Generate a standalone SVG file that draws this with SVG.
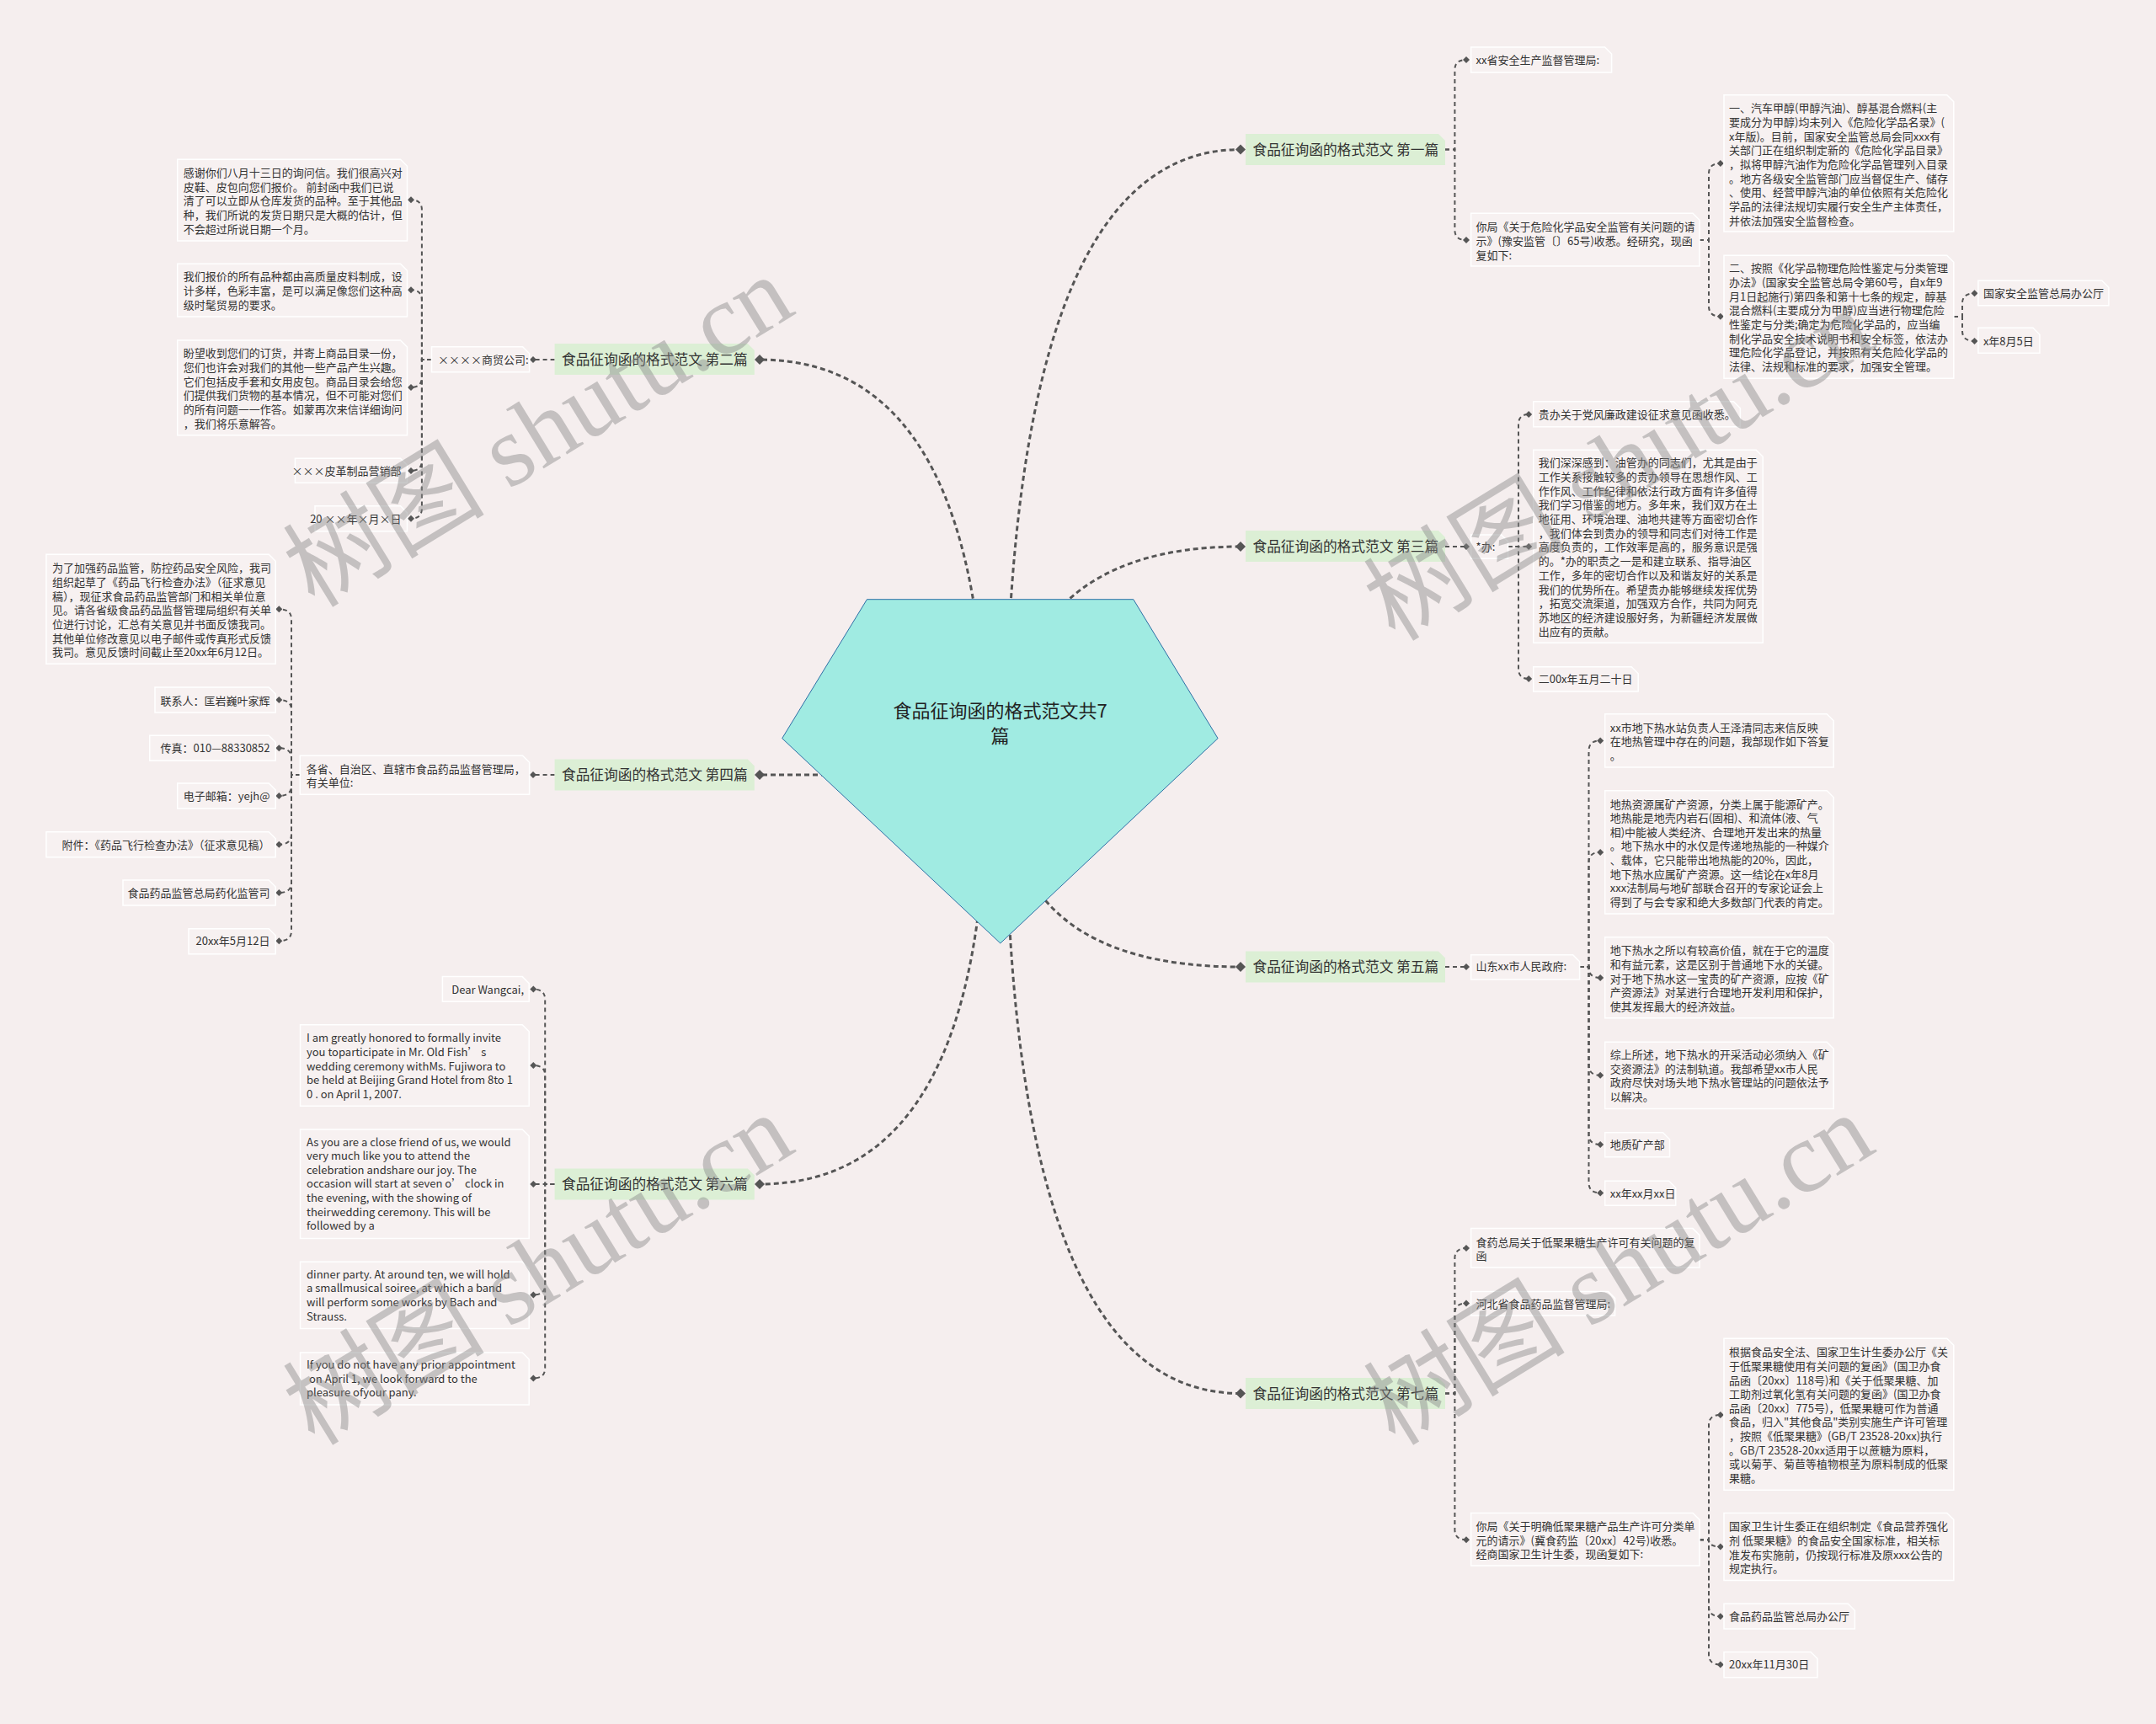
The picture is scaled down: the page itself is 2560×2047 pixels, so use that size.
<svg xmlns="http://www.w3.org/2000/svg" width="2560" height="2047" viewBox="0 0 2560 2047">
<style>
.t{font-family:"Noto Sans CJK SC","Noto Sans",sans-serif;fill:#333;font-size:13px}
.tb{font-size:16.7px}
.tc{font-size:22px;fill:#222}
.leaf{fill:#f7f1f1;stroke:#ffffff;stroke-width:1.5}
.br{fill:#dcefd5}
.c0{fill:none;stroke:#555;stroke-width:3;stroke-dasharray:6 4;marker-end:url(#dB)}
.c1{fill:none;stroke:#555;stroke-width:2;stroke-dasharray:5 4;marker-end:url(#dS)}
.wm{font-family:"Liberation Serif","Noto Sans CJK SC",serif;font-size:120px;fill:#8a8a8a;opacity:.45}
</style>
<defs>
<marker id="dB" markerUnits="userSpaceOnUse" viewBox="-7 -7 14 14" markerWidth="14" markerHeight="14" refX="0" refY="0" orient="auto"><path d="M-6 0L0-6L6 0L0 6Z" fill="#555"/></marker>
<marker id="dS" markerUnits="userSpaceOnUse" viewBox="-5 -5 10 10" markerWidth="10" markerHeight="10" refX="0" refY="0" orient="auto"><path d="M-4 0L0-4L4 0L0 4Z" fill="#555"/></marker>
</defs>
<rect width="2560" height="2047" fill="#f5eeee"/>

<g id="connectors">
<path class="c0" d="M1194 920Q1194 177.5 1473 177.5"/>
<path class="c0" d="M1194 920Q1194 649 1473 649"/>
<path class="c0" d="M1194 920Q1194 1148 1473 1148"/>
<path class="c0" d="M1194 920Q1194 1654.5 1473 1654.5"/>
<path class="c0" d="M1171 920Q1171 427 902 427"/>
<path class="c0" d="M1171 920L902 920"/>
<path class="c0" d="M1171 920Q1171 1406 902 1406"/>

<path class="c1" d="M1716 177.5H1727.4V83Q1727.4 71 1741 71"/>
<path class="c1" d="M1716 177.5H1727.4V273Q1727.4 285 1741 285"/>
<path class="c1" d="M2018 285H2029V206Q2029 194 2042.8 194"/>
<path class="c1" d="M2018 285H2029V363.7Q2029 375.7 2042.8 375.7"/>
<path class="c1" d="M2320 376H2330V360.3Q2330 348.3 2344.5 348.3"/>
<path class="c1" d="M2320 376H2330V393Q2330 405 2344.5 405"/>

<path class="c1" d="M1716 649H1741"/>
<path class="c1" d="M1790.5 649H1803V504Q1803 492 1815.2 492"/>
<path class="c1" d="M1790.5 649H1815.2"/>
<path class="c1" d="M1790.5 649H1803V794Q1803 806 1815.2 806"/>

<path class="c1" d="M1716 1148H1741"/>
<path class="c1" d="M1875.5 1148H1886.5V891.4Q1886.5 879.4 1900.2 879.4"/>
<path class="c1" d="M1875.5 1148H1886.5V1023.9Q1886.5 1011.9 1900.2 1011.9"/>
<path class="c1" d="M1875.5 1148H1886.5V1149Q1886.5 1161 1900.2 1161"/>
<path class="c1" d="M1875.5 1148H1886.5V1264.8Q1886.5 1276.8 1900.2 1276.8"/>
<path class="c1" d="M1875.5 1148H1886.5V1347Q1886.5 1359 1900.2 1359"/>
<path class="c1" d="M1875.5 1148H1886.5V1404.4Q1886.5 1416.4 1900.2 1416.4"/>

<path class="c1" d="M1716 1654.5H1727.4V1494Q1727.4 1482 1741 1482"/>
<path class="c1" d="M1716 1654.5H1727.4V1559.5Q1727.4 1547.5 1741 1547.5"/>
<path class="c1" d="M1716 1654.5H1727.4V1816.2Q1727.4 1828.2 1741 1828.2"/>
<path class="c1" d="M2018 1828.2H2029V1692Q2029 1680 2042.8 1680"/>
<path class="c1" d="M2018 1828.2H2029V1828.2Q2029 1836.4 2042.8 1836.4"/>
<path class="c1" d="M2018 1828.2H2029V1907.3Q2029 1919.3 2042.8 1919.3"/>
<path class="c1" d="M2018 1828.2H2029V1964.4Q2029 1976.4 2042.8 1976.4"/>

<path class="c1" d="M658.6 427H633"/>
<path class="c1" d="M512.5 427H500.9V249.3Q500.9 237.3 488 237.3"/>
<path class="c1" d="M512.5 427H500.9V356.3Q500.9 344.3 488 344.3"/>
<path class="c1" d="M512.5 427H500.9V448Q500.9 460 488 460"/>
<path class="c1" d="M512.5 427H500.9V547Q500.9 559 488 559"/>
<path class="c1" d="M512.5 427H500.9V603.7Q500.9 615.7 488 615.7"/>

<path class="c1" d="M658.6 920H633"/>
<path class="c1" d="M356.3 920H346V735.3Q346 723.3 331.3 723.3"/>
<path class="c1" d="M356.3 920H346V843Q346 831 331.3 831"/>
<path class="c1" d="M356.3 920H346V900.3Q346 888.3 331.3 888.3"/>
<path class="c1" d="M356.3 920H346V933Q346 945 331.3 945"/>
<path class="c1" d="M356.3 920H346V990.7Q346 1002.7 331.3 1002.7"/>
<path class="c1" d="M356.3 920H346V1048Q346 1060 331.3 1060"/>
<path class="c1" d="M356.3 920H346V1105.3Q346 1117.3 331.3 1117.3"/>

<path class="c1" d="M658.6 1406H647.2V1186.6Q647.2 1174.6 633.3 1174.6"/>
<path class="c1" d="M658.6 1406H647.2V1277Q647.2 1265 633.3 1265"/>
<path class="c1" d="M658.6 1406H633.3"/>
<path class="c1" d="M658.6 1406H647.2V1525.5Q647.2 1537.5 633.3 1537.5"/>
<path class="c1" d="M658.6 1406H647.2V1624.4Q647.2 1636.4 633.3 1636.4"/>
</g>

<g id="root">
<polygon points="1029.4,711.7 1345.8,711.7 1446.1,876.7 1187.8,1120 928.7,876.7" fill="#a0ebe2" stroke="#2d6ea5" stroke-width="1"/>
<text class="t tc" text-anchor="middle"><tspan x="1187.6" y="851.7">食品征询函的格式范文共7</tspan><tspan x="1187.6" y="881.7">篇</tspan></text>
</g>

<g id="n1"><path class="br" d="M1479 159h229l8 8v29h-237z"/><text class="t tb" x="1487.5" y="183.5">食品征询函的格式范文 第一篇</text></g>
<g id="n3"><path class="br" d="M1479 630h229l8 8v29h-237z"/><text class="t tb" x="1487.5" y="655">食品征询函的格式范文 第三篇</text></g>
<g id="n5"><path class="br" d="M1479 1129.5h229l8 8v29h-237z"/><text class="t tb" x="1487.5" y="1154.3">食品征询函的格式范文 第五篇</text></g>
<g id="n7"><path class="br" d="M1479 1636h229l8 8v29h-237z"/><text class="t tb" x="1487.5" y="1660.8">食品征询函的格式范文 第七篇</text></g>
<g id="n2"><path class="br" d="M658.6 408h229.2l8 8v29h-237.2z"/><text class="t tb" x="667" y="432.8">食品征询函的格式范文 第二篇</text></g>
<g id="n4"><path class="br" d="M658.6 901.5h229.2l8 8v29h-237.2z"/><text class="t tb" x="667" y="926.3">食品征询函的格式范文 第四篇</text></g>
<g id="n6"><path class="br" d="M658.6 1387.5h229.2l8 8v29h-237.2z"/><text class="t tb" x="667" y="1412.3">食品征询函的格式范文 第六篇</text></g>

<g id="n1a"><path class="leaf" d="M1746.6 56h159l8 8v22h-167z"/><text class="t" x="1752.6" y="76">xx省安全生产监督管理局:</text></g>
<g id="n1b"><path class="leaf" d="M1746.6 253.3h263.4l8 8v54.7h-271.4z"/><text class="t"><tspan x="1752.6" y="274.2">你局《关于危险化学品安全监管有关问题的请</tspan><tspan x="1752.6" y="290.9">示》(豫安监管〔〕65号)收悉。经研究，现函</tspan><tspan x="1752.6" y="307.6">复如下:</tspan></text></g>
<g id="n1b1"><path class="leaf" d="M2047 112.7h264.8l8 8v154.3h-272.8z"/><text class="t"><tspan x="2053" y="133.2">一、汽车甲醇(甲醇汽油)、醇基混合燃料(主</tspan><tspan x="2053" y="149.9">要成分为甲醇)均未列入《危险化学品名录》(</tspan><tspan x="2053" y="166.6">x年版)。目前，国家安全监管总局会同xxx有</tspan><tspan x="2053" y="183.3">关部门正在组织制定新的《危险化学品目录》</tspan><tspan x="2053" y="200">，拟将甲醇汽油作为危险化学品管理列入目录</tspan><tspan x="2053" y="216.7">。地方各级安全监管部门应当督促生产、储存</tspan><tspan x="2053" y="233.4">、使用、经营甲醇汽油的单位依照有关危险化</tspan><tspan x="2053" y="250.1">学品的法律法规切实履行安全生产主体责任，</tspan><tspan x="2053" y="266.8">并依法加强安全监督检查。</tspan></text></g>
<g id="n1b2"><path class="leaf" d="M2047 303.3h264.8l8 8v138h-272.8z"/><text class="t"><tspan x="2053" y="323.2">二、按照《化学品物理危险性鉴定与分类管理</tspan><tspan x="2053" y="339.9">办法》(国家安全监管总局令第60号，自x年9</tspan><tspan x="2053" y="356.6">月1日起施行)第四条和第十七条的规定，醇基</tspan><tspan x="2053" y="373.3">混合燃料(主要成分为甲醇)应当进行物理危险</tspan><tspan x="2053" y="390">性鉴定与分类;确定为危险化学品的，应当编</tspan><tspan x="2053" y="406.7">制化学品安全技术说明书和安全标签，依法办</tspan><tspan x="2053" y="423.4">理危险化学品登记，并按照有关危险化学品的</tspan><tspan x="2053" y="440.1">法律、法规和标准的要求，加强安全管理。</tspan></text></g>
<g id="n1b2a"><path class="leaf" d="M2348.9 333.3h147l8 8v21.4h-155z"/><text class="t" x="2354.9" y="353.2">国家安全监管总局办公厅</text></g>
<g id="n1b2b"><path class="leaf" d="M2348.9 389.3h65l8 8v22h-73z"/><text class="t" x="2354.9" y="410">x年8月5日</text></g>

<g id="n3a"><path class="leaf" d="M1746.6 635h36l8 8v20.3h-44z"/><text class="t" x="1752.6" y="654">*办:</text></g>
<g id="n3a1"><path class="leaf" d="M1820.7 476.7h237.7l8 8v22h-245.7z"/><text class="t" x="1826.7" y="497">贵办关于党风廉政建设征求意见函收悉。</text></g>
<g id="n3a2"><path class="leaf" d="M1820.7 534.3h264.5l8 8v221h-272.5z"/><text class="t"><tspan x="1826.7" y="554.2">我们深深感到：油管办的同志们，尤其是由于</tspan><tspan x="1826.7" y="570.9">工作关系接触较多的贵办领导在思想作风、工</tspan><tspan x="1826.7" y="587.6">作作风、工作纪律和依法行政方面有许多值得</tspan><tspan x="1826.7" y="604.3">我们学习借鉴的地方。多年来，我们双方在土</tspan><tspan x="1826.7" y="621">地征用、环境治理、油地共建等方面密切合作</tspan><tspan x="1826.7" y="637.7">，我们体会到贵办的领导和同志们对待工作是</tspan><tspan x="1826.7" y="654.4">高度负责的，工作效率是高的，服务意识是强</tspan><tspan x="1826.7" y="671.1">的。*办的职责之一是和建立联系、指导油区</tspan><tspan x="1826.7" y="687.8">工作，多年的密切合作以及和谐友好的关系是</tspan><tspan x="1826.7" y="704.5">我们的优势所在。希望贵办能够继续发挥优势</tspan><tspan x="1826.7" y="721.2">，拓宽交流渠道，加强双方合作，共同为阿克</tspan><tspan x="1826.7" y="737.9">苏地区的经济建设服好务，为新疆经济发展做</tspan><tspan x="1826.7" y="754.6">出应有的贡献。</tspan></text></g>
<g id="n3a3"><path class="leaf" d="M1820.7 791.7h116.5l8 8v21.3h-124.5z"/><text class="t" x="1826.7" y="811.4">二00x年五月二十日</text></g>

<g id="n5a"><path class="leaf" d="M1746.6 1133.7h121l8 8v21.3h-129z"/><text class="t" x="1752.6" y="1152.4">山东xx市人民政府:</text></g>
<g id="n5a1"><path class="leaf" d="M1905.7 847.8h263.5l8 8v55.2h-271.5z"/><text class="t"><tspan x="1911.7" y="868.5">xx市地下热水站负责人王泽清同志来信反映</tspan><tspan x="1911.7" y="885.2">在地热管理中存在的问题，我部现作如下答复</tspan><tspan x="1911.7" y="901.9">。</tspan></text></g>
<g id="n5a2"><path class="leaf" d="M1905.7 938.7h263.5l8 8v138.3h-271.5z"/><text class="t"><tspan x="1911.7" y="959.5">地热资源属矿产资源，分类上属于能源矿产。</tspan><tspan x="1911.7" y="976.1">地热能是地壳内岩石(固相)、和流体(液、气</tspan><tspan x="1911.7" y="992.7">相)中能被人类经济、合理地开发出来的热量</tspan><tspan x="1911.7" y="1009.3">。地下热水中的水仅是传递地热能的一种媒介</tspan><tspan x="1911.7" y="1025.9">、载体，它只能带出地热能的20%，因此，</tspan><tspan x="1911.7" y="1042.5">地下热水应属矿产资源。这一结论在x年8月</tspan><tspan x="1911.7" y="1059.1">xxx法制局与地矿部联合召开的专家论证会上</tspan><tspan x="1911.7" y="1075.7">得到了与会专家和绝大多数部门代表的肯定。</tspan></text></g>
<g id="n5a3"><path class="leaf" d="M1905.7 1112.7h263.5l8 8v88.1h-271.5z"/><text class="t"><tspan x="1911.7" y="1133.4">地下热水之所以有较高价值，就在于它的温度</tspan><tspan x="1911.7" y="1150">和有益元素，这是区别于普通地下水的关键。</tspan><tspan x="1911.7" y="1166.6">对于地下热水这一宝贵的矿产资源，应按《矿</tspan><tspan x="1911.7" y="1183.2">产资源法》对某进行合理地开发利用和保护，</tspan><tspan x="1911.7" y="1199.8">使其发挥最大的经济效益。</tspan></text></g>
<g id="n5a4"><path class="leaf" d="M1905.7 1237.3h263.5l8 8v71.1h-271.5z"/><text class="t"><tspan x="1911.7" y="1257.2">综上所述，地下热水的开采活动必须纳入《矿</tspan><tspan x="1911.7" y="1273.8">交资源法》的法制轨道。我部希望xx市人民</tspan><tspan x="1911.7" y="1290.4">政府尽快对场头地下热水管理站的问题依法予</tspan><tspan x="1911.7" y="1307">以解决。</tspan></text></g>
<g id="n5a5"><path class="leaf" d="M1905.7 1344.8h68.8l8 8v21h-76.8z"/><text class="t" x="1911.7" y="1364">地质矿产部</text></g>
<g id="n5a6"><path class="leaf" d="M1905.7 1402.2h76l8 8v21h-84z"/><text class="t" x="1911.7" y="1421.5">xx年xx月xx日</text></g>

<g id="n7a"><path class="leaf" d="M1746.6 1458.6h263.4l8 8v38.4h-271.4z"/><text class="t"><tspan x="1752.6" y="1479.5">食药总局关于低聚果糖生产许可有关问题的复</tspan><tspan x="1752.6" y="1496">函</tspan></text></g>
<g id="n7b"><path class="leaf" d="M1746.6 1533.6h163l8 8v20.5h-171z"/><text class="t" x="1752.6" y="1552.8">河北省食品药品监督管理局:</text></g>
<g id="n7c"><path class="leaf" d="M1746.6 1796.4h263.4l8 8v54.5h-271.4z"/><text class="t"><tspan x="1752.6" y="1817">你局《关于明确低聚果糖产品生产许可分类单</tspan><tspan x="1752.6" y="1833.5">元的请示》(冀食药监〔20xx〕42号)收悉。</tspan><tspan x="1752.6" y="1850">经商国家卫生计生委，现函复如下:</tspan></text></g>
<g id="n7c1"><path class="leaf" d="M2047 1589.3h264.8l8 8v172h-272.8z"/><text class="t"><tspan x="2053" y="1610.3">根据食品安全法、国家卫生计生委办公厅《关</tspan><tspan x="2053" y="1626.9">于低聚果糖使用有关问题的复函》(国卫办食</tspan><tspan x="2053" y="1643.5">品函〔20xx〕118号)和《关于低聚果糖、加</tspan><tspan x="2053" y="1660.1">工助剂过氧化氢有关问题的复函》(国卫办食</tspan><tspan x="2053" y="1676.7">品函〔20xx〕775号)，低聚果糖可作为普通</tspan><tspan x="2053" y="1693.3">食品，归入"其他食品"类别实施生产许可管理</tspan><tspan x="2053" y="1709.9">，按照《低聚果糖》(GB/T 23528-20xx)执行</tspan><tspan x="2053" y="1726.5">。GB/T 23528-20xx适用于以蔗糖为原料，</tspan><tspan x="2053" y="1743.1">或以菊芋、菊苣等植物根茎为原料制成的低聚</tspan><tspan x="2053" y="1759.7">果糖。</tspan></text></g>
<g id="n7c2"><path class="leaf" d="M2047 1796.4h264.8l8 8v72h-272.8z"/><text class="t"><tspan x="2053" y="1817.4">国家卫生计生委正在组织制定《食品营养强化</tspan><tspan x="2053" y="1834">剂 低聚果糖》的食品安全国家标准，相关标</tspan><tspan x="2053" y="1850.6">准发布实施前，仍按现行标准及原xxx公告的</tspan><tspan x="2053" y="1867.2">规定执行。</tspan></text></g>
<g id="n7c3"><path class="leaf" d="M2047 1904.3h147.4l8 8v21.6h-155.4z"/><text class="t" x="2053" y="1924.2">食品药品监管总局办公厅</text></g>
<g id="n7c4"><path class="leaf" d="M2047 1961.4h103l8 8v22.4h-111z"/><text class="t" x="2053" y="1981.3">20xx年11月30日</text></g>

<g id="n2a"><path class="leaf" d="M512.5 411.7h108.1l8 8v22h-116.1z"/><text class="t" x="520" y="432">××××商贸公司:</text></g>
<g id="n2a1"><path class="leaf" d="M210.7 189.3h264.8l8 8v88.7h-272.8z"/><text class="t"><tspan x="217.7" y="209.9">感谢你们八月十三日的询问信。我们很高兴对</tspan><tspan x="217.7" y="226.6">皮鞋、皮包向您们报价。 前封函中我们已说</tspan><tspan x="217.7" y="243.3">清了可以立即从仓库发货的品种。至于其他品</tspan><tspan x="217.7" y="260">种，我们所说的发货日期只是大概的估计，但</tspan><tspan x="217.7" y="276.7">不会超过所说日期一个月。</tspan></text></g>
<g id="n2a2"><path class="leaf" d="M210.7 313.3h264.8l8 8v54.7h-272.8z"/><text class="t"><tspan x="217.7" y="333.2">我们报价的所有品种都由高质量皮料制成，设</tspan><tspan x="217.7" y="349.9">计多样，色彩丰富，是可以满足像您们这种高</tspan><tspan x="217.7" y="366.6">级时髦贸易的要求。</tspan></text></g>
<g id="n2a3"><path class="leaf" d="M210.7 404h264.8l8 8v104.7h-272.8z"/><text class="t"><tspan x="217.7" y="424.2">盼望收到您们的订货，并寄上商品目录一份，</tspan><tspan x="217.7" y="440.9">您们也许会对我们的其他一些产品产生兴趣。</tspan><tspan x="217.7" y="457.6">它们包括皮手套和女用皮包。商品目录会给您</tspan><tspan x="217.7" y="474.3">们提供我们货物的基本情况，但不可能对您们</tspan><tspan x="217.7" y="491">的所有问题一一作答。如蒙再次来信详细询问</tspan><tspan x="217.7" y="507.7">，我们将乐意解答。</tspan></text></g>
<g id="n2a4"><path class="leaf" d="M350.4 544.3h125.1l8 8v21h-133.1z"/><text class="t" x="476.5" y="564.2" text-anchor="end">×××皮革制品营销部</text></g>
<g id="n2a5"><path class="leaf" d="M374 600.7h101.5l8 8v22h-109.5z"/><text class="t" x="476.5" y="621" text-anchor="end">20 ××年×月×日</text></g>

<g id="n4a"><path class="leaf" d="M356.3 897.3h264.3l8 8v38h-272.3z"/><text class="t"><tspan x="363.8" y="918.2">各省、自治区、直辖市食品药品监督管理局，</tspan><tspan x="363.8" y="934.2">有关单位:</tspan></text></g>
<g id="n4a1"><path class="leaf" d="M54.9 658.3h264.3l8 8v122h-272.3z"/><text class="t"><tspan x="62" y="679.2">为了加强药品监管，防控药品安全风险，我司</tspan><tspan x="62" y="695.9">组织起草了《药品飞行检查办法》（征求意见</tspan><tspan x="62" y="712.6">稿），现征求食品药品监管部门和相关单位意</tspan><tspan x="62" y="729.3">见。请各省级食品药品监督管理局组织有关单</tspan><tspan x="62" y="746">位进行讨论，汇总有关意见并书面反馈我司。</tspan><tspan x="62" y="762.7">其他单位修改意见以电子邮件或传真形式反馈</tspan><tspan x="62" y="779.4">我司。意见反馈时间截止至20xx年6月12日。</tspan></text></g>
<g id="n4a2"><path class="leaf" d="M184 816h135.2l8 8v22h-143.2z"/><text class="t" x="320.5" y="836.6" text-anchor="end">联系人：匡岩巍叶家辉</text></g>
<g id="n4a3"><path class="leaf" d="M177.7 873.3h141.5l8 8v22h-149.5z"/><text class="t" x="320.5" y="893.2" text-anchor="end">传真：010—88330852</text></g>
<g id="n4a4"><path class="leaf" d="M210.7 930h108.5l8 8v22h-116.5z"/><text class="t" x="320.5" y="950.4" text-anchor="end">电子邮箱：yejh@</text></g>
<g id="n4a5"><path class="leaf" d="M54.9 987.7h264.3l8 8v22h-272.3z"/><text class="t" x="320.5" y="1008" text-anchor="end">附件：《药品飞行检查办法》（征求意见稿）</text></g>
<g id="n4a6"><path class="leaf" d="M146 1045h173.2l8 8v22h-181.2z"/><text class="t" x="320.5" y="1065.4" text-anchor="end">食品药品监管总局药化监管司</text></g>
<g id="n4a7"><path class="leaf" d="M224 1102.7h95.2l8 8v22h-103.2z"/><text class="t" x="320.5" y="1122.4" text-anchor="end">20xx年5月12日</text></g>

<g id="n6a"><path class="leaf" d="M525.4 1159.6h94.8l8 8v21.7h-102.8z"/><text class="t" x="622" y="1179.5" text-anchor="end">Dear Wangcai,</text></g>
<g id="n6b"><path class="leaf" d="M356.5 1216.8h263.7l8 8v88.4h-271.7z"/><text class="t"><tspan x="364" y="1237.4">I am greatly honored to formally invite</tspan><tspan x="364" y="1254">you toparticipate in Mr. Old Fish’ s</tspan><tspan x="364" y="1270.6">wedding ceremony withMs. Fujiwora to</tspan><tspan x="364" y="1287.2">be held at Beijing Grand Hotel from 8to 1</tspan><tspan x="364" y="1303.8">0 . on April 1, 2007.</tspan></text></g>
<g id="n6c"><path class="leaf" d="M356.5 1341h263.7l8 8v121.4h-271.7z"/><text class="t"><tspan x="364" y="1360.5">As you are a close friend of us, we would</tspan><tspan x="364" y="1377.1">very much like you to attend the</tspan><tspan x="364" y="1393.7">celebration andshare our joy. The</tspan><tspan x="364" y="1410.3">occasion will start at seven o’ clock in</tspan><tspan x="364" y="1426.9">the evening, with the showing of</tspan><tspan x="364" y="1443.5">theirwedding ceremony. This will be</tspan><tspan x="364" y="1460.1">followed by a</tspan></text></g>
<g id="n6d"><path class="leaf" d="M356.5 1498.2h263.7l8 8v71.3h-271.7z"/><text class="t"><tspan x="364" y="1517.7">dinner party. At around ten, we will hold</tspan><tspan x="364" y="1534.3">a smallmusical soiree, at which a band</tspan><tspan x="364" y="1550.9">will perform some works by Bach and</tspan><tspan x="364" y="1567.5">Strauss.</tspan></text></g>
<g id="n6e"><path class="leaf" d="M356.5 1606h263.7l8 8v54h-271.7z"/><text class="t"><tspan x="364" y="1624.9">If you do not have any prior appointment</tspan><tspan x="364" y="1641.5">&#160;on April 1, we look forward to the</tspan><tspan x="364" y="1658.1">pleasure ofyour pany.</tspan></text></g>

<g id="watermark">
<text class="wm" text-anchor="middle" transform="translate(650 530) rotate(-31.5)" x="0" y="20">树图 shutu.cn</text>
<text class="wm" text-anchor="middle" transform="translate(1933 570) rotate(-31.5)" x="0" y="20">树图 shutu.cn</text>
<text class="wm" text-anchor="middle" transform="translate(650 1525) rotate(-31.5)" x="0" y="20">树图 shutu.cn</text>
<text class="wm" text-anchor="middle" transform="translate(1933 1525) rotate(-31.5)" x="0" y="20">树图 shutu.cn</text>
</g>
</svg>
